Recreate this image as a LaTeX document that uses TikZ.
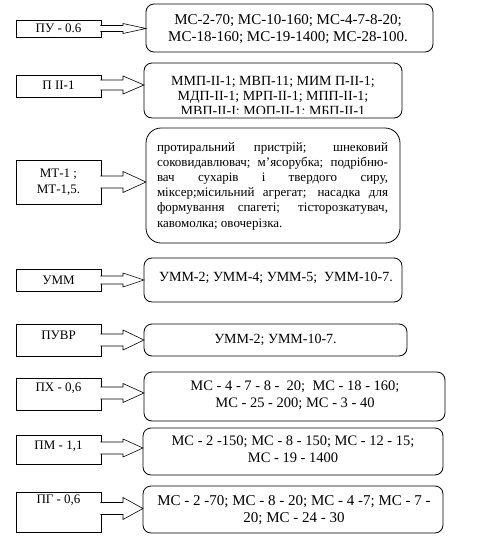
\documentclass[tikz,border=0pt]{standalone}
\usepackage{fontspec}
\setmainfont{Liberation Serif}
\usetikzlibrary{calc}
\tikzset{
  lbox/.style={draw, line width=0.8pt, minimum width=85pt, inner sep=0pt, outer sep=0pt},
  rbox/.style={draw, line width=0.8pt, rounded corners=8pt, inner sep=0pt, outer sep=0pt},
  txt/.style={inner sep=0pt, align=center, font=\fontsize{14}{16.1}\selectfont},
  ltxt/.style={inner sep=0pt, align=center, font=\fontsize{13}{16}\selectfont},
  txtsmall/.style={inner sep=0pt, align=center, font=\fontsize{13}{15.2}\selectfont},
  blk/.style={draw, fill=white, line width=0.6pt},
}
\newcommand\blockarrow[5]{% from, to, dy, shaft half, head half
  \path[blk] let \p1=($(#1.east)+(0,#3)$), \p2=(#2.west) in
    (\x1-0.6pt,\y1+#4pt) -- (\x1+22pt,\y1+#4pt) -- (\x1+22pt,\y1+#5pt)
    -- (\x2,\y1) -- (\x1+22pt,\y1-#5pt) -- (\x1+22pt,\y1-#4pt) -- (\x1-0.6pt,\y1-#4pt);
}
\begin{document}
\begin{tikzpicture}[x=1pt,y=-1pt]
\useasboundingbox (0,0) rectangle (478,555);

% left boxes
\node[lbox, minimum height=17pt] (l1) at (58.5,28.5) {};
\node[lbox, minimum height=22pt] (l2) at (58.5,86) {};
\node[lbox, minimum height=44pt] (l3) at (58.5,182) {};
\node[lbox, minimum height=22pt] (l4) at (58.5,280) {};
\node[lbox, minimum height=32pt] (l5) at (58.5,340) {};
\node[lbox, minimum height=32pt] (l6) at (58.5,394) {};
\node[lbox, minimum height=29pt] (l7) at (58.5,449.5) {};
\node[lbox, minimum height=40pt] (l8) at (58.5,512) {};

\node[ltxt] (lt1) at (58.5,28.5) {ПУ - 0.6};
\node[ltxt] (lt2) at (58.5,85) {П ІІ-1};
\node[ltxt] (lt3) at (58.5,182) {МТ-1 ;\\МТ-1,5.};
\node[ltxt] (lt4) at (58.5,280) {УММ};
\node[ltxt] (lt5) at (58.5,335) {ПУВР};
\node[ltxt] (lt6) at (58.5,388) {ПХ - 0,6};
\node[ltxt] (lt7) at (58.5,446) {ПМ - 1,1};
\node[ltxt] (lt8) at (58.5,500) {ПГ - 0,6};

% right boxes
\node[rbox, minimum width=287pt, minimum height=48pt] (r1) at (289.5,28) {};
\node[rbox, minimum width=258pt, minimum height=55pt] (r2) at (273,90.5) {};
\node[rbox, rounded corners=15pt, minimum width=254pt, minimum height=115pt] (r3) at (273,185.5) {};
\node[rbox, minimum width=258pt, minimum height=44pt] (r4) at (273,280) {};
\node[rbox, minimum width=263pt, minimum height=32pt] (r5) at (275.5,340) {};
\node[rbox, minimum width=301pt, minimum height=49pt] (r6) at (294.5,396.5) {};
\node[rbox, minimum width=300pt, minimum height=47pt] (r7) at (293,451.5) {};
\node[rbox, minimum width=300pt, minimum height=47pt] (r8) at (293,509.5) {};

\node[txt, font=\fontsize{15}{16.5}\selectfont] (rt1) at (288,29) {МС-2-70; МС-10-160; МС-4-7-8-20;\\МС-18-160; МС-19-1400; МС-28-100.};
\begin{scope}
  \clip (144,63) rectangle (402,113.5);
  \node[txt, anchor=north, font=\fontsize{14}{15}\selectfont] (rt2) at (273,76) {ММП-ІІ-1; МВП-11; МИМ П-ІІ-1;\\МДП-ІІ-1; МРП-ІІ-1; МПП-ІІ-1;\\МВП-ІІ-І; МОП-ІІ-1; МБП-ІІ-1};
\end{scope}
\node[txtsmall] (rt3) at (272.5,186) {%
  \makebox[231pt][s]{протиральний пристрій; шнековий}\\
  \makebox[231pt][s]{соковидавлювач; м’ясорубка; подрібню-}\\
  \makebox[231pt][s]{вач сухарів і твердого сиру,}\\
  \makebox[231pt][s]{міксер;місильний агрегат; насадка для}\\
  \makebox[231pt][s]{формування спагеті; тісторозкатувач,}\\
  \makebox[231pt][l]{кавомолка; овочерізка.}};
\node[txt] (rt4) at (276,278) {УММ-2; УММ-4; УММ-5;\ \ УММ-10-7.};
\node[txt] (rt5) at (275.5,340) {УММ-2; УММ-10-7.};
\node[txt, font=\fontsize{14.5}{17}\selectfont] (rt6) at (295,395.5) {МС - 4 - 7 - 8 -\ \ 20;\ \ МС - 18 - 160;\\МС - 25 - 200; МС - 3 - 40};
\node[txt, font=\fontsize{14.5}{17}\selectfont] (rt7) at (293,449) {МС - 2 -150; МС - 8 - 150; МС - 12 - 15;\\МС - 19 - 1400};
\node[txt, font=\fontsize{15}{16.5}\selectfont] (rt8) at (294,510) {МС - 2 -70; МС - 8 - 20; МС - 4 -7; МС - 7 -\\20; МС - 24 - 30};

% block arrows
\blockarrow{l1}{r1}{0}{3}{5}
\blockarrow{l2}{r2}{-1}{5}{9}
\blockarrow{l3}{r3}{0}{6}{10.5}
\blockarrow{l4}{r4}{0}{4}{7}
\blockarrow{l5}{r5}{0}{6}{10}
\blockarrow{l6}{r6}{-1}{6}{9.5}
\blockarrow{l7}{r7}{-1.5}{6}{9}
\blockarrow{l8}{r8}{-3.5}{6}{11}
\end{tikzpicture}
\end{document}
